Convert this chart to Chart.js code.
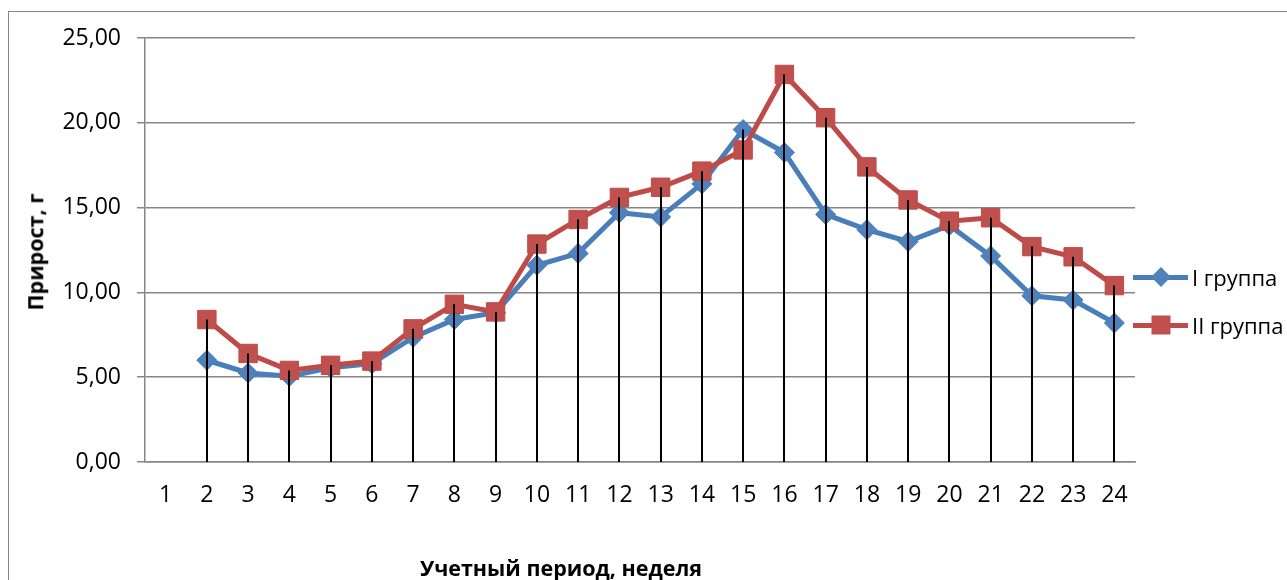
<!DOCTYPE html>
<html>
<head>
<meta charset="utf-8">
<script src="https://cdn.jsdelivr.net/npm/chart.js@4.4.0/dist/chart.umd.min.js"></script>
<style>
  html, body { margin: 0; padding: 0; background: #fff; }
  body { width: 1287px; height: 580px; position: relative; overflow: hidden; font-family: "Open Sans", sans-serif; }
  #frame { position: absolute; left: 8px; top: 11px; width: 1320px; height: 620px; border: 1px solid #868686; }
  #wrap { position: absolute; left: 0; top: 0; width: 1287px; height: 580px; }
  .ytitle { position: absolute; left: 35px; top: 252px; transform: translate(-50%, -50%) rotate(-90deg);
            font-weight: bold; font-size: 21.5px; line-height: 1; white-space: nowrap; }
  .xtitle { position: absolute; left: 561px; top: 557px; transform: translateX(-50%);
            font-weight: bold; font-size: 21.5px; line-height: 1; white-space: nowrap; }
  .item { position: absolute; left: 1133px; height: 30px; display: flex; align-items: center; }
  .sample { position: relative; width: 55px; height: 5px; }
  .mark { position: absolute; left: 50%; top: 50%; }
  .item span { margin-left: 4px; font-size: 22px; line-height: 30px; white-space: nowrap; }
</style>
</head>
<body>
<div id="frame"></div>
<div id="wrap"><canvas id="myChart" width="1287" height="580"></canvas></div>
<div class="ytitle">Прирост, г</div>
<div class="xtitle">Учетный период, неделя</div>
<div class="item" style="top:262px">
  <div class="sample" style="background:#4A7EBB">
    <div class="mark" style="width:14px;height:14px;background:#4F81BD;transform:translate(-50%,-50%) rotate(45deg)"></div>
  </div>
  <span>I группа</span>
</div>
<div class="item" style="top:310px">
  <div class="sample" style="background:#BE4B48">
    <div class="mark" style="width:19px;height:19px;background:#C0504D;transform:translate(-50%,-50%)"></div>
  </div>
  <span>II группа</span>
</div>
<script>
// данные
const weeks = ['1','2','3','4','5','6','7','8','9','10','11','12','13','14','15','16','17','18','19','20','21','22','23','24'];
const group1 = [null, 6.0, 5.25, 5.05, 5.55, 5.8, 7.35, 8.4, 8.8, 11.6, 12.3, 14.7, 14.45, 16.4, 19.6, 18.25, 14.6, 13.7, 13.0, 13.95, 12.15, 9.8, 9.55, 8.2];
const group2 = [null, 8.4, 6.4, 5.4, 5.7, 5.95, 7.85, 9.3, 8.85, 12.85, 14.3, 15.6, 16.2, 17.15, 18.4, 22.85, 20.3, 17.4, 15.45, 14.2, 14.4, 12.7, 12.1, 10.4];
const yTicks = [0, 5, 10, 15, 20, 25];

const gridColor = '#868686';

// вертикальные линии от верхней точки до оси
const dropLines = {
  id: 'dropLines',
  afterDatasetsDraw(chart) {
    const ctx = chart.ctx;
    const x = chart.scales.x;
    const y = chart.scales.y;
    ctx.save();
    ctx.strokeStyle = '#000';
    ctx.lineWidth = 2;
    weeks.forEach((w, i) => {
      const vals = chart.data.datasets.map(d => d.data[i]).filter(v => v != null);
      if (!vals.length) return;
      const px = Math.round(x.getPixelForValue(i));
      ctx.beginPath();
      ctx.moveTo(px, y.getPixelForValue(Math.max(...vals)));
      ctx.lineTo(px, y.getPixelForValue(0));
      ctx.stroke();
    });
    ctx.restore();
  }
};

const ctx = document.getElementById('myChart').getContext('2d');
const myChart = new Chart(ctx, {
  type: 'line',
  data: {
    labels: weeks,
    datasets: [{
      label: 'I группа',
      data: group1,
      borderColor: '#4A7EBB',
      backgroundColor: '#4F81BD',
      pointBorderColor: '#4A7EBB',
      borderWidth: 5,
      pointStyle: 'rectRot',
      pointRadius: 10,
      pointBorderWidth: 1,
      order: 1
    }, {
      label: 'II группа',
      data: group2,
      borderColor: '#BE4B48',
      backgroundColor: '#C0504D',
      pointBorderColor: '#BE4B48',
      borderWidth: 5,
      pointStyle: 'rect',
      pointRadius: 13,
      pointBorderWidth: 1,
      order: 0
    }]
  },
  options: {
    responsive: false,
    animation: false,
    layout: { padding: { top: 38, right: 152, left: 0, bottom: 0 } },
    plugins: { legend: { display: false }, tooltip: { enabled: false } },
    scales: {
      x: {
        offset: true,
        grid: { display: false, drawTicks: false },
        border: { display: true, color: gridColor, width: 1.5 },
        ticks: { color: '#000', padding: 20, font: { family: 'Open Sans', size: 23 }, maxRotation: 0, autoSkip: false },
        afterFit: s => { s.height = 118; }
      },
      y: {
        min: 0,
        max: 25,
        afterBuildTicks: s => { s.ticks = yTicks.map(v => ({ value: v })); },
        grid: { color: gridColor, lineWidth: 1.5, tickLength: 8 },
        border: { color: gridColor, width: 1.5 },
        ticks: {
          color: '#000',
          padding: 16,
          font: { family: 'Open Sans', size: 23 },
          callback: v => v.toFixed(2).replace('.', ',')
        },
        afterFit: s => { s.width = 145; }
      }
    }
  },
  plugins: [dropLines]
});
</script>
</body>
</html>
